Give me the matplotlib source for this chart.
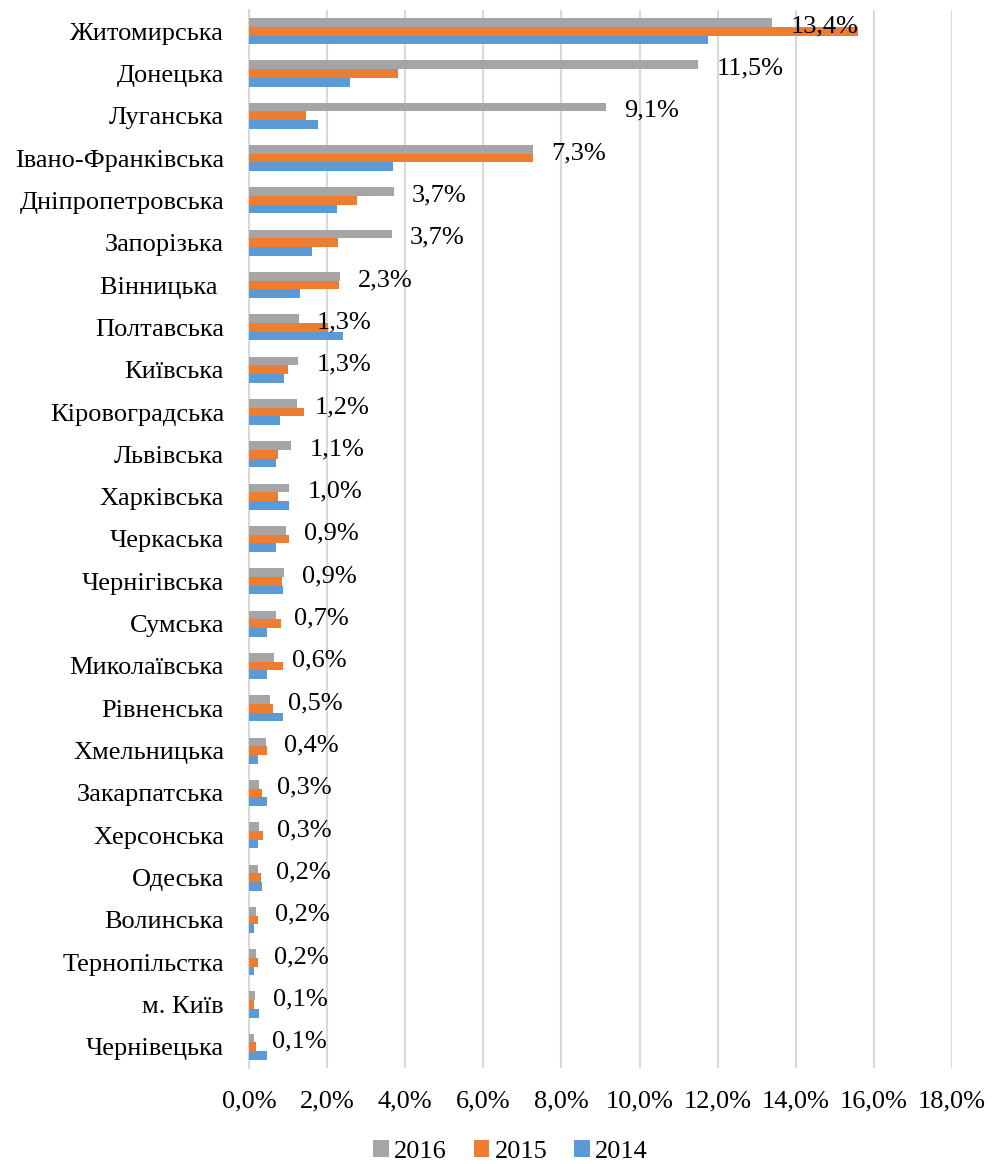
import numpy as np
import matplotlib
matplotlib.use("Agg")
from matplotlib import pyplot as plt
from matplotlib.ticker import FuncFormatter
from matplotlib.patches import Patch

regions = ["Житомирська", "Донецька", "Луганська", "Івано-Франківська",
           "Дніпропетровська", "Запорізька", "Вінницька ", "Полтавська",
           "Київська", "Кіровоградська", "Львівська", "Харківська",
           "Черкаська", "Чернігівська", "Сумська", "Миколаївська",
           "Рівненська", "Хмельницька", "Закарпатська", "Херсонська",
           "Одеська", "Волинська", "Тернопільстка", "м. Київ", "Чернівецька"]

v2016 = [13.4, 11.5, 9.13, 7.27, 3.71, 3.66, 2.33, 1.27, 1.26, 1.22, 1.08, 1.03,
         0.94, 0.89, 0.68, 0.63, 0.53, 0.44, 0.26, 0.26, 0.22, 0.19, 0.18, 0.14, 0.13]
v2015 = [15.58, 3.81, 1.46, 7.26, 2.76, 2.28, 2.30, 2.03, 1.00, 1.40, 0.73, 0.75,
         1.02, 0.84, 0.81, 0.86, 0.62, 0.45, 0.32, 0.37, 0.30, 0.24, 0.22, 0.13, 0.18]
v2014 = [11.74, 2.58, 1.76, 3.68, 2.25, 1.61, 1.30, 2.40, 0.90, 0.79, 0.70, 1.03,
         0.69, 0.86, 0.46, 0.47, 0.86, 0.24, 0.46, 0.23, 0.32, 0.13, 0.13, 0.25, 0.46]

years = ["2016", "2015", "2014"]
colors = ["#A5A5A5", "#ED7D31", "#5B9BD5"]
xticks = [0, 2, 4, 6, 8, 10, 12, 14, 16, 18]

plt.rcParams['font.family'] = ['Liberation Serif', 'DejaVu Serif']

fig = plt.figure(figsize=(9.95, 11.64), dpi=100)
ax = fig.add_axes([0.2503, 0.0825, 0.7065, 0.9089])

y = np.arange(len(regions))
h = 0.205
for vals, col, off in zip([v2016, v2015, v2014], colors, [-h, 0, h]):
    ax.barh(y + off, vals, height=h, color=col, linewidth=0, zorder=3)

for i, v in enumerate(v2016):
    ax.annotate(f"{v:.1f}%".replace('.', ','), xy=(v, i - 0.12), xytext=(13, 0),
                textcoords='offset points', va='center', ha='left', fontsize=19, zorder=4)

ax.set_xlim(0, 18)
ax.set_ylim(len(regions) - 0.5, -0.5)
ax.set_xticks(xticks)
ax.xaxis.set_major_formatter(FuncFormatter(lambda x, p: f"{x:.1f}%".replace('.', ',')))
ax.set_yticks(y)
ax.set_yticklabels(regions)
ax.tick_params(axis='x', length=0, pad=16, labelsize=19)
ax.tick_params(axis='y', length=0, pad=18, labelsize=19)
ax.grid(axis='x', color='#D9D9D9', linewidth=1.5, zorder=0)
for s in ['top', 'right', 'bottom']:
    ax.spines[s].set_visible(False)
ax.spines['left'].set_color('#D9D9D9')
ax.spines['left'].set_linewidth(1.5)

handles = [Patch(facecolor=c, label=l) for c, l in zip(colors, years)]
fig.legend(handles=handles, loc='center', bbox_to_anchor=(0.513, 0.011), ncol=3,
           frameon=False, fontsize=19, handlelength=0.6, handleheight=0.6,
           handletextpad=0.2, columnspacing=1.0)

fig.savefig("out.png", dpi=100)
